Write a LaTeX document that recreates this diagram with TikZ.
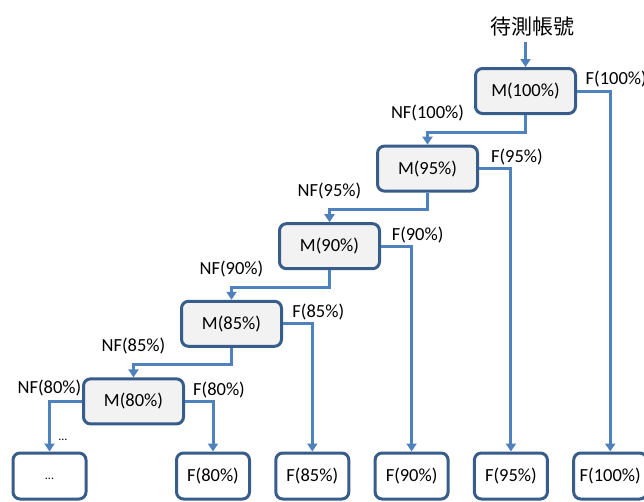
\documentclass[tikz,border=0pt]{standalone}
\usepackage{fontspec}
\setmainfont{Carlito}
\newfontfamily\cjkfont{Noto Sans CJK TC}
\usepackage{xcolor}
\usetikzlibrary{positioning,arrows.meta}
\definecolor{linkblue}{HTML}{4F81BD}
\definecolor{edgeblue}{HTML}{385D8A}
\definecolor{boxgray}{HTML}{F2F2F2}

\begin{document}
\begin{tikzpicture}[x=1pt, y=1pt,
    test block/.style={draw=edgeblue, line width=3pt, fill=boxgray, rounded corners=7pt, minimum width=100pt, minimum height=45pt, font=\fontsize{18.5}{22}\selectfont},
    result block/.style={draw=edgeblue, line width=3pt, fill=white, rounded corners=7pt, minimum width=73pt, minimum height=46pt, font=\fontsize{18.5}{22}\selectfont},
    link/.style={draw=linkblue, line width=3pt, -{Triangle[width=10pt,length=8pt]}},
    nf label/.style={above=8pt, inner sep=1pt, font=\fontsize{18.5}{22}\selectfont},
    f label/.style={above=1pt, xshift=6pt, inner sep=1pt, font=\fontsize{18.5}{22}\selectfont},
    node distance=77.6pt and 98pt, on grid]
    \useasboundingbox (0,0) rectangle (644,-501);

    \node[inner sep=1pt, font=\fontsize{21}{24}\selectfont] (acct) at (532,-27) {\cjkfont 待測帳號};
    \node[test block] (m100) at (525.5,-91) {M(100\%)};
    \node[test block, below left=of m100] (m95) {M(95\%)};
    \node[test block, below left=of m95] (m90) {M(90\%)};
    \node[test block, below left=of m90] (m85) {M(85\%)};
    \node[test block, below left=of m85] (m80) {M(80\%)};

    \node[result block] (more) at (49.5,-476) {\raisebox{-8pt}{\fontsize{12}{14}\selectfont ...}};
    \node[result block, right=163.5pt of more] (f80) {F(80\%)};
    \node[result block, right=99.3pt of f80] (f85) {F(85\%)};
    \node[result block, right=99.3pt of f85] (f90) {F(90\%)};
    \node[result block, right=99.3pt of f90] (f95) {F(95\%)};
    \node[result block, right=99.3pt of f95] (f100) {F(100\%)};

    \draw[link, shorten <=4pt] (m100.north |- acct.south) -- (m100.north);

    \draw[link] (m100.east) -| node[f label] {F(100\%)} (f100.north);
    \draw[link] (m95.east) -| node[f label] {F(95\%)} (f95.north);
    \draw[link] (m90.east) -| node[f label] {F(90\%)} (f90.north);
    \draw[link] (m85.east) -| node[f label] {F(85\%)} (f85.north);
    \draw[link] (m80.east) -| node[f label] {F(80\%)} (f80.north);

    \draw[link] (m100.south) -- ++(0,-17) -| node[nf label] {NF(100\%)} (m95.north);
    \draw[link] (m95.south) -- ++(0,-17) -| node[nf label] {NF(95\%)} (m90.north);
    \draw[link] (m90.south) -- ++(0,-17) -| node[nf label] {NF(90\%)} (m85.north);
    \draw[link] (m85.south) -- ++(0,-17) -| node[nf label] {NF(85\%)} (m80.north);
    \draw[link] (m80.west) -| node[nf label, above=3pt] {NF(80\%)}
        node[pos=0.88, right=4pt, font=\fontsize{12}{14}\selectfont] {...} (more.north);

\end{tikzpicture}
\end{document}
